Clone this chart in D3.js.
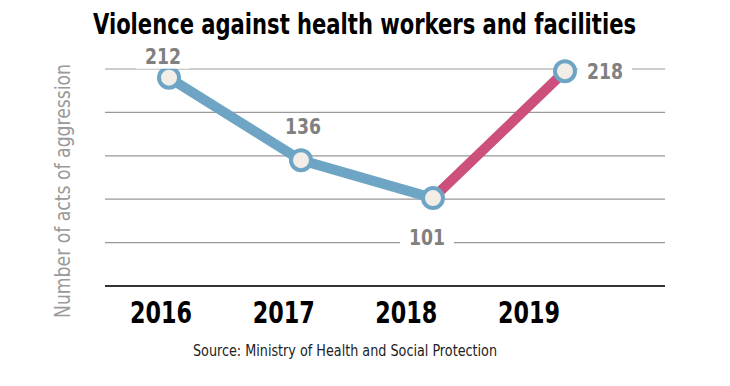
<!DOCTYPE html>
<html>
<head>
<meta charset="utf-8">
<script src="https://cdn.jsdelivr.net/npm/d3@7"></script>
<style>
  body { margin: 0; background: #fff; }
  svg { display: block; }
  text { font-family: "Liberation Sans Narrow", "DejaVu Sans Condensed", "Arial Narrow", sans-serif; }
</style>
</head>
<body>
<svg width="730" height="386"></svg>
<script>
// data
var years = ["2016", "2017", "2018", "2019"];
var acts = [212, 136, 101, 218];
var gridTicks = [20, 60, 100, 140, 180, 220];

var svg = d3.select("svg");

var x = d3.scalePoint().domain(years).range([169, 565]);
var xLab = d3.scalePoint().domain(years).range([161, 529]);
var y = d3.scaleLinear().domain([20, 220]).range([286, 69]);

// title (condensed font is wider than the original, so stretch it vertically)
svg.append("text")
    .attr("transform", "translate(93,34) scale(1,1.28)")
    .style("font-size", "22px").style("font-weight", "bold")
    .attr("fill", "#000")
    .attr("textLength", 543).attr("lengthAdjust", "spacingAndGlyphs")
    .text("Violence against health workers and facilities");

// grid
svg.append("g").selectAll("line")
  .data(gridTicks)
  .enter().append("line")
    .attr("x1", 105).attr("x2", 665)
    .attr("y1", function(d) { return y(d); })
    .attr("y2", function(d) { return y(d); })
    .attr("stroke", function(d, i) { return i == 0 ? "#333" : "#999"; })
    .attr("stroke-width", function(d, i) { return i == 0 ? 2 : 1.2; });

// y label
svg.append("text")
    .attr("transform", "translate(70,191) rotate(-90)")
    .attr("text-anchor", "middle")
    .style("font-size", "22px")
    .attr("fill", "#9a9a9a")
    .attr("textLength", 254).attr("lengthAdjust", "spacingAndGlyphs")
    .text("Number of acts of aggression");

// lines
var pts = years.map(function(d, i) { return [x(d), y(acts[i])]; });
var line = d3.line();
svg.append("path")
    .attr("d", line(pts.slice(0, 3)))
    .attr("fill", "none").attr("stroke", "#6ea5c4")
    .attr("stroke-width", 10).attr("stroke-linejoin", "round");
svg.append("path")
    .attr("d", line(pts.slice(2)))
    .attr("fill", "none").attr("stroke", "#cc4f7c")
    .attr("stroke-width", 10);

// points
svg.append("g").selectAll("circle")
  .data(acts)
  .enter().append("circle")
    .attr("cx", function(d, i) { return x(years[i]); })
    .attr("cy", function(d) { return y(d); })
    .attr("r", 10)
    .attr("fill", "#f3ede8")
    .attr("stroke", "#6ea5c4").attr("stroke-width", 4);

// value labels (above, above, below, right)
function labelPos(d, i) {
  var px = x(years[i]), py = y(d);
  if (i == 3) return [px + 40, py + 8];
  if (i == 2) return [px - 6, py + 47];
  if (i == 1) return [px + 2, py - 26];
  return [px - 6, py - 14];
}
var labels = svg.append("g").selectAll("g")
  .data(acts)
  .enter().append("g")
    .attr("transform", function(d, i) { return "translate(" + labelPos(d, i) + ")"; });
labels.append("rect")
    .attr("x", -27).attr("y", -20).attr("width", 54).attr("height", 25)
    .attr("fill", "#fff");
labels.append("text")
    .attr("text-anchor", "middle")
    .style("font-size", "22px").style("font-weight", "bold")
    .attr("fill", "#808080")
    .attr("textLength", 36).attr("lengthAdjust", "spacingAndGlyphs")
    .text(function(d) { return d; });

// year labels
svg.append("g").selectAll("text")
  .data(years)
  .enter().append("text")
    .attr("x", function(d) { return xLab(d); })
    .attr("y", 323)
    .attr("text-anchor", "middle")
    .style("font-size", "31px").style("font-weight", "bold")
    .attr("fill", "#000")
    .attr("textLength", 62).attr("lengthAdjust", "spacingAndGlyphs")
    .text(function(d) { return d; });

// source
svg.append("text")
    .attr("x", 345).attr("y", 356)
    .attr("text-anchor", "middle")
    .style("font-size", "16px")
    .attr("fill", "#222")
    .attr("textLength", 304).attr("lengthAdjust", "spacingAndGlyphs")
    .text("Source: Ministry of Health and Social Protection");
</script>
</body>
</html>
